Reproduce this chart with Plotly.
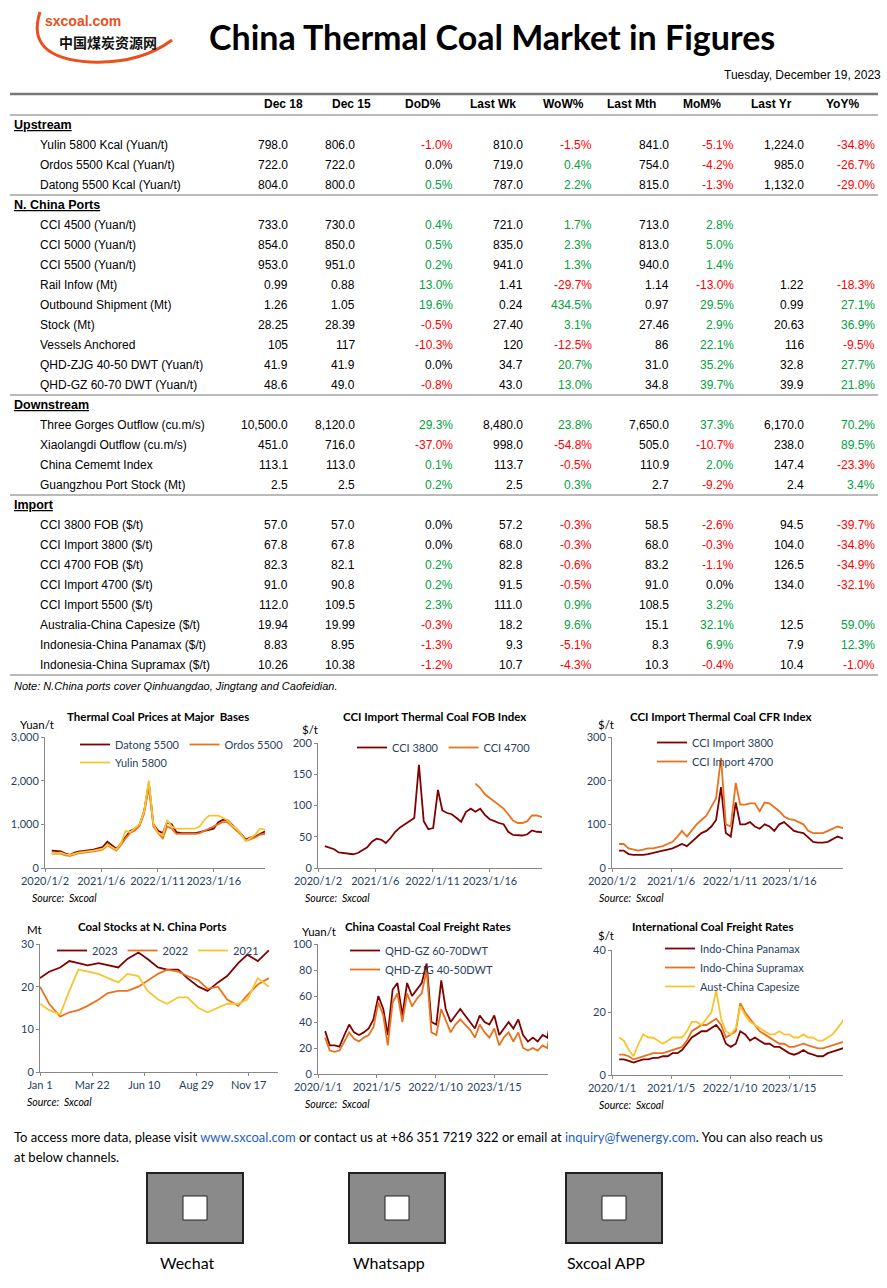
import pandas as pd
import plotly.graph_objects as go

W, H = 887, 1288
def X(p): return p / W
def Y(p): return 1 - p / H

RED = "#800000"; ORG = "#E8731E"; YEL = "#F7C531"

# ---------------- table data ----------------
columns = ["Dec 18", "Dec 15", "DoD%", "Last Wk", "WoW%", "Last Mth", "MoM%", "Last Yr", "YoY%"]
sections = ["Upstream", "N. China Ports", "Downstream", "Import"]
labels = [
    ["Yulin 5800 Kcal (Yuan/t)", "Ordos 5500 Kcal (Yuan/t)", "Datong 5500 Kcal (Yuan/t)"],
    ["CCI 4500 (Yuan/t)", "CCI 5000 (Yuan/t)", "CCI 5500 (Yuan/t)", "Rail Infow (Mt)", "Outbound Shipment (Mt)",
     "Stock (Mt)", "Vessels Anchored", "QHD-ZJG 40-50 DWT (Yuan/t)", "QHD-GZ 60-70 DWT (Yuan/t)"],
    ["Three Gorges Outflow (cu.m/s)", "Xiaolangdi Outflow (cu.m/s)", "China Cememt Index", "Guangzhou Port Stock (Mt)"],
    ["CCI 3800 FOB ($/t)", "CCI Import 3800 ($/t)", "CCI 4700 FOB ($/t)", "CCI Import 4700 ($/t)", "CCI Import 5500 ($/t)",
     "Australia-China Capesize ($/t)", "Indonesia-China Panamax ($/t)", "Indonesia-China Supramax ($/t)"],
]
dec18 = ["798.0", "722.0", "804.0", "733.0", "854.0", "953.0", "0.99", "1.26", "28.25", "105", "41.9", "48.6",
         "10,500.0", "451.0", "113.1", "2.5", "57.0", "67.8", "82.3", "91.0", "112.0", "19.94", "8.83", "10.26"]
dec15 = ["806.0", "722.0", "800.0", "730.0", "850.0", "951.0", "0.88", "1.05", "28.39", "117", "41.9", "49.0",
         "8,120.0", "716.0", "113.0", "2.5", "57.0", "67.8", "82.1", "90.8", "109.5", "19.99", "8.95", "10.38"]
dod = ["-1.0%", "0.0%", "0.5%", "0.4%", "0.5%", "0.2%", "13.0%", "19.6%", "-0.5%", "-10.3%", "0.0%", "-0.8%",
       "29.3%", "-37.0%", "0.1%", "0.2%", "0.0%", "0.0%", "0.2%", "0.2%", "2.3%", "-0.3%", "-1.3%", "-1.2%"]
last_wk = ["810.0", "719.0", "787.0", "721.0", "835.0", "941.0", "1.41", "0.24", "27.40", "120", "34.7", "43.0",
           "8,480.0", "998.0", "113.7", "2.5", "57.2", "68.0", "82.8", "91.5", "111.0", "18.2", "9.3", "10.7"]
wow = ["-1.5%", "0.4%", "2.2%", "1.7%", "2.3%", "1.3%", "-29.7%", "434.5%", "3.1%", "-12.5%", "20.7%", "13.0%",
       "23.8%", "-54.8%", "-0.5%", "0.3%", "-0.3%", "-0.3%", "-0.6%", "-0.5%", "0.9%", "9.6%", "-5.1%", "-4.3%"]
last_mth = ["841.0", "754.0", "815.0", "713.0", "813.0", "940.0", "1.14", "0.97", "27.46", "86", "31.0", "34.8",
            "7,650.0", "505.0", "110.9", "2.7", "58.5", "68.0", "83.2", "91.0", "108.5", "15.1", "8.3", "10.3"]
mom = ["-5.1%", "-4.2%", "-1.3%", "2.8%", "5.0%", "1.4%", "-13.0%", "29.5%", "2.9%", "22.1%", "35.2%", "39.7%",
       "37.3%", "-10.7%", "2.0%", "-9.2%", "-2.6%", "-0.3%", "-1.1%", "0.0%", "3.2%", "32.1%", "6.9%", "-0.4%"]
last_yr = ["1,224.0", "985.0", "1,132.0", "", "", "", "1.22", "0.99", "20.63", "116", "32.8", "39.9",
           "6,170.0", "238.0", "147.4", "2.4", "94.5", "104.0", "126.5", "134.0", "", "12.5", "7.9", "10.4"]
yoy = ["-34.8%", "-26.7%", "-29.0%", "", "", "", "-18.3%", "27.1%", "36.9%", "-9.5%", "27.7%", "21.8%",
       "70.2%", "89.5%", "-23.3%", "3.4%", "-39.7%", "-34.8%", "-34.9%", "-32.1%", "", "59.0%", "12.3%", "-1.0%"]

# ---------------- chart data (monthly) ----------------
months = pd.date_range("2020-01-15", periods=48, freq="MS") + pd.Timedelta(days=14)
datong = [400, 390, 380, 330, 300, 350, 380, 390, 400, 420, 450, 480,
          600, 520, 440, 560, 720, 850, 900, 1000, 1300, 1950, 1000, 850,
          800, 1050, 1000, 820, 800, 800, 800, 800, 820, 850, 880, 900,
          1050, 1100, 1100, 1000, 900, 780, 650, 700, 720, 780, 830, 800]
ordos = [330, 330, 330, 290, 280, 310, 340, 350, 360, 380, 400, 420,
         520, 460, 400, 520, 680, 800, 860, 960, 1250, 1850, 950, 800,
         680, 950, 900, 780, 780, 780, 780, 780, 800, 850, 900, 950,
         1000, 1050, 1050, 950, 850, 760, 620, 660, 700, 760, 780, 720]
yulin = [340, 340, 350, 310, 300, 330, 360, 370, 380, 400, 420, 440,
         540, 480, 420, 560, 850, 820, 900, 1000, 1300, 2000, 1000, 800,
         750, 1100, 950, 900, 900, 900, 900, 900, 950, 1100, 1200, 1200,
         1200, 1150, 1100, 980, 900, 780, 620, 690, 760, 900, 880, 790]
cci3800 = [35, 33, 30, 25, 24, 23, 22, 24, 28, 33, 42, 47,
           45, 40, 48, 58, 65, 70, 74, 80, 165, 75, 62, 64,
           125, 92, 88, 86, 80, 74, 90, 95, 90, 95, 85, 78,
           75, 72, 70, 58, 53, 52, 52, 54, 60, 58, 57, 57]
cci4700 = [None] * 32 + [135, 128, 118, 112, 105, 100, 95, 86, 76, 72, 72, 75, 84, 84, 82, 82]
cfr3800 = [40, 40, 32, 30, 30, 30, 32, 35, 38, 40, 42, 45,
           50, 55, 50, 60, 70, 80, 85, 95, 110, 185, 80, 72,
           150, 100, 100, 105, 95, 90, 100, 95, 85, 100, 105, 95,
           85, 82, 80, 70, 60, 58, 58, 60, 65, 72, 68, 68]
cfr4700 = [55, 55, 45, 42, 40, 42, 45, 45, 48, 50, 55, 60,
           72, 85, 72, 86, 100, 110, 120, 140, 160, 252, 100, 95,
           195, 145, 145, 148, 148, 130, 150, 148, 140, 130, 118, 112,
           110, 105, 100, 85, 80, 80, 80, 85, 90, 95, 92, 90]
days = [0, 14, 31, 45, 59, 73, 90, 104, 120, 134, 151, 165, 181, 195, 212, 226, 243, 257, 273, 287, 304, 318, 334, 351]
stock23 = [22, 23.5, 24.5, 26, 25.5, 25, 25.5, 25, 24.5, 26.5, 28, 26.5,
           24.5, 24, 24, 22, 20, 19, 21, 22.5, 25.5, 27.5, 26, 28.5]
stock22 = [20, 16, 13, 14, 14.5, 15.5, 17, 18.5, 19, 19, 20, 21.5,
           23, 24, 23.5, 22.5, 21.5, 19.5, 20, 17, 15.5, 18, 20.5, 22]
stock21 = [16, 14.5, 13.5, 19, 24, 23.5, 23, 22, 21, 23, 22.5, 19,
           17, 16, 17.5, 17.5, 15, 14, 15, 16, 16, 17, 22, 20]
qhd_gz = [33, 22, 22, 21, 30, 38, 32, 30, 32, 35, 42, 60,
          50, 30, 65, 70, 45, 70, 60, 65, 70, 85, 40, 38,
          72, 50, 40, 45, 50, 45, 40, 35, 45, 40, 38, 45,
          30, 35, 40, 35, 42, 30, 25, 28, 25, 30, 28, 48]
qhd_zjg = [28, 18, 17, 18, 25, 32, 27, 25, 28, 30, 36, 55,
           45, 22, 55, 62, 40, 62, 52, 58, 62, 80, 32, 30,
           50, 42, 32, 38, 42, 38, 34, 28, 38, 32, 28, 35,
           22, 28, 32, 25, 32, 20, 18, 20, 18, 22, 20, 40]
panamax = [5, 5, 4.5, 4, 4.5, 5, 5, 5.5, 5.5, 6, 6, 7,
           7, 8, 10, 12, 13, 14, 14, 15, 16, 14, 10, 9,
           10, 14, 13, 11, 12, 11, 10, 10, 9, 9, 8, 7,
           6.5, 7, 8, 7, 6.5, 6, 6, 7, 7.5, 8, 8.5, 9]
supramax = [6.5, 6.5, 6, 5, 5.5, 6, 6.5, 7, 7, 7, 7.5, 8,
            8.5, 9, 11, 14, 15, 16, 16, 17, 18, 16, 12, 13,
            14, 23, 20, 18, 16, 14, 13, 12, 11, 10, 10, 9,
            9, 9.5, 10, 9.5, 9, 8.5, 8.5, 9, 9.5, 10, 10.5, 10.5]
capesize = [12, 11, 8, 6, 10, 13, 12, 12, 11, 10, 11, 12,
            12, 12, 14, 17, 17, 16, 18, 20, 27, 18, 14, 13,
            15, 22, 19, 17, 16, 15, 14, 13, 13, 14, 13, 13,
            12, 12, 13, 12, 12, 11, 11, 12, 13, 15, 17, 20]

fig = go.Figure()
ann = []
shp = []
FONT = "Liberation Sans"
TFONT = "Lato"

def text(x, y, s, size=12, color="#000", anchor="left", bold=False, italic=False, font=FONT):
    if bold: s = "<b>" + s + "</b>"
    if italic: s = "<i>" + s + "</i>"
    ann.append(dict(x=X(x), y=Y(y), xref="paper", yref="paper", text=s, showarrow=False,
                    xanchor=anchor, yanchor="middle", font=dict(size=size, color=color, family=font)))

def hline(y, x0=10, x1=878, w=1, color="#777"):
    shp.append(dict(type="line", xref="paper", yref="paper", x0=X(x0), x1=X(x1), y0=Y(y), y1=Y(y),
                    line=dict(color=color, width=w)))

# header / logo
shp.append(dict(type="path", xref="paper", yref="paper",
                path="M %f %f Q %f %f %f %f Q %f %f %f %f" % (X(40), Y(12), X(25), Y(58), X(90), Y(62),
                                                            X(140), Y(64), X(172), Y(40)),
                line=dict(color="#E8501E", width=3)))
text(43, 21, "sxcoal.com", 14, "#E8501E", bold=True)
text(57, 42, "中国煤炭资源网", 14, "#111", bold=True, font="Noto Sans CJK SC")
text(492, 37, "China Thermal Coal Market in Figures", 34, "#000", "center", bold=True, font=TFONT)
text(883, 75, "Tuesday, December 19, 2023", 12, "#000", "right")

# table
col_right = [290, 357, 455, 525, 594, 671, 736, 806, 877]
col_center = [283, 351, 423, 493, 563, 631, 702, 771, 842]
for c, cx in zip(columns, col_center):
    text(cx, 104, c, 12, anchor="center", bold=True)
hline(94, w=2.5); hline(115)

def pct_color(s):
    if s.startswith("-"): return "#FF0000"
    if s == "0.0%": return "#000"
    return "#00A040"

y = 125; i = 0
for si, sec in enumerate(sections):
    if si > 0:
        hline(y - 10)
    text(12, y, "<u>" + sec + "</u>", 12.5, bold=True)
    y += 20
    for lab in labels[si]:
        text(38, y, lab, 12)
        vals = [dec18[i], dec15[i], dod[i], last_wk[i], wow[i], last_mth[i], mom[i], last_yr[i], yoy[i]]
        for k, v in enumerate(vals):
            if v:
                col = pct_color(v) if v.endswith("%") else "#000"
                text(col_right[k], y, v, 12, col, "right")
        y += 20; i += 1
hline(y - 10)
text(12, y + 1, "Note: N.China ports cover Qinhuangdao, Jingtang and Caofeidian.", 11, italic=True)

# charts
t1v = ["2020-01-02", "2021-01-06", "2022-01-11", "2023-01-16"]
t1t = ["2020/1/2", "2021/1/6", "2022/1/11", "2023/1/16"]
t2v = ["2020-01-01", "2021-01-05", "2022-01-10", "2023-01-15"]
t2t = ["2020/1/1", "2021/1/5", "2022/1/10", "2023/1/15"]
charts = [
    dict(x=(45, 265), y=(868, 737), rng=[0, 3000], title="Thermal Coal Prices at Major  Bases", tx=158, ty=716, unit="Yuan/t", ux=18, uy=724,
         series=[("Datong 5500", months, datong, RED, "l1"), ("Ordos 5500", months, ordos, ORG, "l1"), ("Yulin 5800", months, yulin, YEL, "l1b")],
         tv=t1v, tt=t1t, dt=1000, fmt=","),
    dict(x=(318, 542), y=(868, 743), rng=[0, 200], title="CCI Import Thermal Coal FOB Index", tx=434, ty=716, unit="$/t", ux=300, uy=729,
         series=[("CCI 3800", months, cci3800, RED, "l2"), ("CCI 4700", months, cci4700, ORG, "l2")],
         tv=t1v, tt=t1t, dt=50, fmt=""),
    dict(x=(612, 843), y=(868, 737), rng=[0, 300], title="CCI Import Thermal Coal CFR Index", tx=720, ty=716, unit="$/t", ux=596, uy=724,
         series=[("CCI Import 3800", months, cfr3800, RED, "l3"), ("CCI Import 4700", months, cfr4700, ORG, "l3")],
         tv=t1v, tt=t1t, dt=100, fmt=""),
    dict(x=(40, 278), y=(1072, 944), rng=[0, 30], title="Coal Stocks at N. China Ports", tx=152, ty=926, unit="Mt", ux=25, uy=929,
         series=[("2023", days, stock23, RED, "l4"), ("2022", days, stock22, ORG, "l4"), ("2021", days, stock21, YEL, "l4")],
         tv=[0, 80, 160, 240, 320], tt=["Jan 1", "Mar 22", "Jun 10", "Aug 29", "Nov 17"], dt=10, fmt="", xr=[0, 365]),
    dict(x=(318, 548), y=(1074, 944), rng=[0, 100], title="China Coastal Coal Freight Rates", tx=428, ty=926, unit="Yuan/t", ux=300, uy=931,
         series=[("QHD-GZ 60-70DWT", months, qhd_gz, RED, "l5"), ("QHD-ZJG 40-50DWT", months, qhd_zjg, ORG, "l5")],
         tv=t2v, tt=t2t, dt=20, fmt="", xr=["2020-01-01", "2023-12-19"]),
    dict(x=(612, 843), y=(1075, 950), rng=[0, 40], title="International Coal Freight Rates", tx=712, ty=926, unit="$/t", ux=596, uy=935,
         series=[("Indo-China Panamax", months, panamax, RED, "l6"), ("Indo-China Supramax", months, supramax, ORG, "l6"),
                 ("Aust-China Capesize", months, capesize, YEL, "l6")],
         tv=t2v, tt=t2t, dt=20, fmt="", xr=["2020-01-01", "2023-12-19"]),
]
legend_pos = {"l1": (75, 730, "h"), "l1b": (75, 748, "h"), "l2": (352, 733, "h"), "l3": (652, 728, "v"),
              "l4": (52, 936, "h"), "l5": (345, 936, "v"), "l6": (660, 934, "v")}
layout_extra = {}
legend_name = {}
for n, (key, (lx, ly, ori)) in enumerate(legend_pos.items()):
    name = "legend" if n == 0 else "legend%d" % (n + 1)
    legend_name[key] = name
    layout_extra[name] = dict(x=X(lx), y=Y(ly), xanchor="left", yanchor="top", orientation=ori,
                              bgcolor="rgba(0,0,0,0)", font=dict(size=11, family=TFONT), itemwidth=30,
                              tracegroupgap=0)

for n, ch in enumerate(charts):
    ax = "" if n == 0 else str(n + 1)
    for (nm, xs, ys, col, lg) in ch["series"]:
        fig.add_trace(go.Scatter(x=xs, y=ys, name=nm, mode="lines", line=dict(color=col, width=1.8),
                                 xaxis="x" + ax, yaxis="y" + ax, legend=legend_name[lg], connectgaps=False))
    xr = ch.get("xr", ["2020-01-02", "2023-12-19"])
    layout_extra["xaxis" + ax] = dict(domain=[X(ch["x"][0]), X(ch["x"][1])], anchor="y" + ax, range=xr,
                                      tickvals=ch["tv"], ticktext=ch["tt"], showline=True, linecolor="#888",
                                      ticks="outside", ticklen=3, tickcolor="#888", showgrid=False, zeroline=False,
                                      tickangle=0, automargin=False, tickfont=dict(size=11, family=TFONT))
    layout_extra["yaxis" + ax] = dict(domain=[Y(ch["y"][0]), Y(ch["y"][1])], anchor="x" + ax, range=ch["rng"],
                                      dtick=ch["dt"], tickformat=ch["fmt"], showline=True, linecolor="#888",
                                      ticks="outside", ticklen=3, tickcolor="#888", showgrid=False, zeroline=False,
                                      automargin=False, tickfont=dict(size=11, family=TFONT))
    text(ch["tx"], ch["ty"], ch["title"], 11.5, anchor="center", bold=True, font=TFONT)
    text(ch["ux"], ch["uy"], ch["unit"], 11.5, font=TFONT)
    text(ch["x"][0] - 15, ch["y"][0] + 30, "Source:  Sxcoal", 10.5, italic=True, font=TFONT)

# footer
text(12, 1137, "To access more data, please visit <span style='color:#1F5FBF'>www.sxcoal.com</span> or contact us at +86 351 7219 322 or email at "
     "<span style='color:#1F5FBF'>inquiry@fwenergy.com</span>. You can also reach us", 13, font=TFONT)
text(12, 1157, "at below channels.", 13, font=TFONT)
for cx, lab in [(195, "Wechat"), (397, "Whatsapp"), (614, "Sxcoal APP")]:
    shp.append(dict(type="rect", xref="paper", yref="paper", x0=X(cx - 48), x1=X(cx + 48), y0=Y(1243), y1=Y(1173),
                    fillcolor="#8a8a8a", line=dict(color="#222", width=2)))
    shp.append(dict(type="rect", xref="paper", yref="paper", x0=X(cx - 12), x1=X(cx + 12), y0=Y(1220), y1=Y(1196),
                    fillcolor="#fff", line=dict(color="#222", width=1)))
    text(cx - 8, 1262, lab, 16, anchor="center", font=TFONT)

fig.update_layout(width=W, height=H, margin=dict(l=0, r=0, t=0, b=0, autoexpand=False), paper_bgcolor="white",
                  plot_bgcolor="white", showlegend=True, annotations=ann, shapes=shp, **layout_extra)
fig.write_html("out.html", config={"displayModeBar": False},
               post_script="document.body.style.margin='0';document.body.style.overflow='hidden';")
